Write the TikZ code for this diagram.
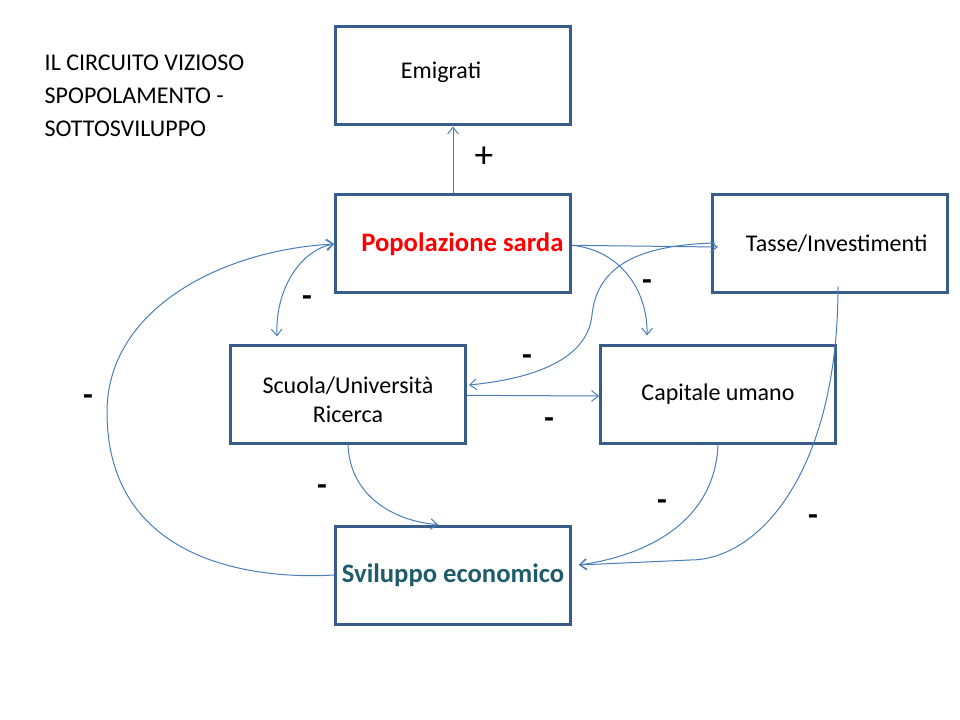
\documentclass[tikz,border=0pt]{standalone}
\usepackage{fontspec}
\setmainfont{Carlito}
\usetikzlibrary{arrows.meta,calc}
\definecolor{boxblue}{HTML}{385D8A}
\definecolor{linkblue}{HTML}{4A7EBB}
\definecolor{darkteal}{HTML}{1F5C6A}

\begin{document}
\begin{tikzpicture}[x=0.75pt,y=-0.75pt,
    >={Straight Barb[length=5pt,width=8pt]},
    link/.style={draw=linkblue,line width=0.75pt,->}]

  \useasboundingbox (0,0) rectangle (960,720);

  \node[anchor=north west,align=left,font=\fontsize{18}{24.75}\selectfont] (title) at (40,50)
    {IL CIRCUITO VIZIOSO\\SPOPOLAMENTO -\\SOTTOSVILUPPO};

  % boxes
  \begin{scope}[every node/.style={draw=boxblue,line width=2.25pt,minimum width=176.25pt,
      minimum height=73.5pt,align=center,inner sep=0pt,font=\fontsize{18}{22}\selectfont}]
    \node (emi) at (453,76)  {\raisebox{3pt}[\height][\depth]{Emigrati}\hspace*{18pt}};
    \node (pop) at (453,244) {\hspace*{14pt}\fontsize{20}{24}\selectfont\bfseries\color{red}Popolazione sarda};
    \node (tax) at (830,244) {\hspace*{10pt}Tasse/Investimenti};
    \node (scu) at (348,394) {\raisebox{-6pt}[\height][\depth]{\begin{tabular}{@{}c@{}}Scuola/Università\\Ricerca\end{tabular}}};
    \node (cap) at (718,394) {Capitale umano};
    \node (svi) at (453,575) {\fontsize{20}{24}\selectfont\bfseries\color{darkteal}Sviluppo economico};
  \end{scope}

  % links
  \draw[link] (pop.north) -- (emi.south);
  \draw[link] ([yshift=-1pt]pop.east) -- ($(tax.west)+(7,3)$);
  \draw[link] ($(tax.west)+(4,-1)$) .. controls (640,245) and (597,265) .. (592,315)
    .. controls (587,365) and (520,380) .. ($(scu.east)+(2,-9)$);
  \draw[link] ([yshift=-1pt]pop.east) .. controls (620,250) and (648,290) .. ($(cap.north)+(-71,-8)$);
  \draw[link,<->] ($(scu.north)+(-71,-7)$) .. controls (275,290) and (300,250) .. (pop.west);
  \draw[link] (svi.west) .. controls (250,580) and (107,560) .. (107,412)
    .. controls (107,310) and (220,250) .. (pop.west);
  \draw[link] ([yshift=-1pt]scu.east) -- ($(cap.west)+(0,2)$);
  \draw[link] (scu.south) .. controls (350,500) and (400,522) .. ($(svi.north)+(-15,0)$);
  \draw[link] (cap.south) .. controls (715,520) and (650,555) .. ($(svi.east)+(7,-10)$);
  \draw[link] ($(tax.south)+(8,-8)$) .. controls (838,470) and (760,560) .. (690,560)
    -- ($(svi.east)+(7,-10)$);

  % signs
  \begin{scope}[every node/.style={font=\fontsize{24}{24}\selectfont\bfseries}]
    \node (plus) at (484,157) {\fontsize{28}{28}\selectfont\mdseries +};
    \node (m1) at (307,301) {-};
    \node (m2) at (647,285) {-};
    \node (m3) at (527,360) {-};
    \node (m4) at (549,423) {-};
    \node (m5) at (88,400)  {-};
    \node (m6) at (322,490) {-};
    \node (m7) at (662,505) {-};
    \node (m8) at (813,520) {-};
  \end{scope}

\end{tikzpicture}
\end{document}
